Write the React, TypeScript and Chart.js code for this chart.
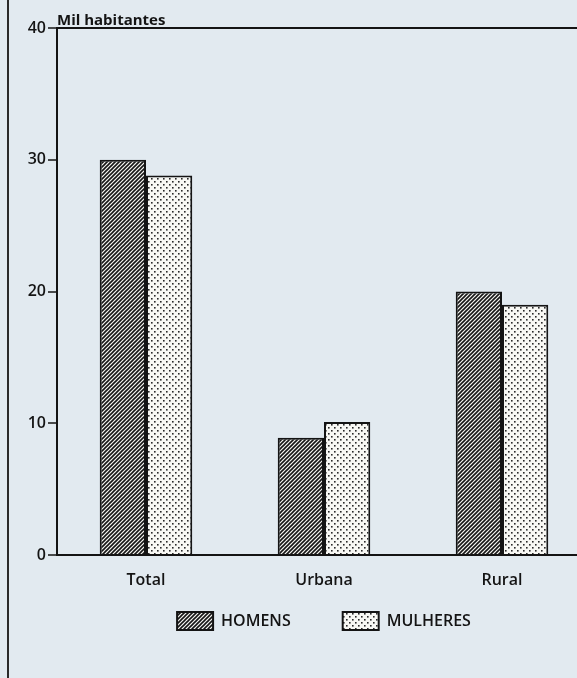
import { useEffect, useRef } from 'react';
import { Chart, registerables } from 'chart.js';

Chart.register(...registerables);

const categories = ['Total', 'Urbana', 'Rural'];
const homens = [30, 8.9, 20];
const mulheres = [28.8, 10.1, 19];
const yTitle = 'Mil habitantes';
const seriesNames = ['HOMENS', 'MULHERES'];
const yMin = 0;
const yMax = 40;
const yStep = 10;

const FONT = '"Open Sans", "DejaVu Sans", sans-serif';
const INK = '#141414';

function hatchPattern(ctx: CanvasRenderingContext2D) {
  const c = document.createElement('canvas');
  c.width = 4;
  c.height = 4;
  const g = c.getContext('2d')!;
  g.fillStyle = '#f5f5f1';
  g.fillRect(0, 0, 4, 4);
  g.strokeStyle = '#161616';
  g.lineWidth = 1.6;
  g.beginPath();
  g.moveTo(-1, 5); g.lineTo(5, -1);
  g.moveTo(-1, 1); g.lineTo(1, -1);
  g.moveTo(3, 5); g.lineTo(5, 3);
  g.stroke();
  return ctx.createPattern(c, 'repeat')!;
}

function dotPattern(ctx: CanvasRenderingContext2D) {
  const c = document.createElement('canvas');
  c.width = 6;
  c.height = 6;
  const g = c.getContext('2d')!;
  g.fillStyle = '#f8f8f4';
  g.fillRect(0, 0, 6, 6);
  g.fillStyle = '#2a2a2a';
  g.fillRect(1, 1, 1.6, 1.6);
  g.fillRect(4, 4, 1.6, 1.6);
  return ctx.createPattern(c, 'repeat')!;
}

export default function App() {
  const ref = useRef<HTMLCanvasElement>(null);
  useEffect(() => {
    const canvas = ref.current!;
    const ctx = canvas.getContext('2d')!;
    const defaultGen = (Chart as any).defaults.plugins.legend.labels.generateLabels;
    const chart = new Chart(ctx, {
      type: 'bar',
      data: {
        labels: categories,
        datasets: [
          {
            label: seriesNames[0],
            data: homens,
            backgroundColor: hatchPattern(ctx),
            borderColor: INK,
            borderWidth: 2,
            barPercentage: 1,
            categoryPercentage: 0.52,
          },
          {
            label: seriesNames[1],
            data: mulheres,
            backgroundColor: dotPattern(ctx),
            borderColor: INK,
            borderWidth: 2,
            barPercentage: 1,
            categoryPercentage: 0.52,
          },
        ],
      },
      options: {
        animation: false,
        responsive: false,
        maintainAspectRatio: false,
        layout: { padding: { top: 0, right: 0, bottom: 38, left: 0 } },
        plugins: {
          tooltip: { enabled: false },
          title: {
            display: true,
            text: yTitle,
            align: 'start',
            position: 'top',
            fullSize: false,
            color: INK,
            font: { family: FONT, size: 15, weight: 'bold', lineHeight: 1 },
            padding: { top: 13, bottom: 0 },
          },
          legend: {
            display: true,
            position: 'bottom',
            fullSize: false,
            labels: {
              color: INK,
              font: { family: FONT, size: 16, weight: '600' },
              boxWidth: 36,
              boxHeight: 18,
              padding: 20,
              generateLabels: (c: any) => {
                const items = defaultGen(c);
                if (items[0]) items[0].text = items[0].text + '\u2002\u2002\u2002\u2002';
                return items;
              },
            },
          },
        },
        scales: {
          x: {
            grid: { display: false },
            border: { display: true, color: INK, width: 2 },
            ticks: { color: INK, font: { family: FONT, size: 16, weight: '600' }, padding: 8 },
            afterFit: (scale: any) => { scale.height = 37; },
          },
          y: {
            min: yMin,
            max: yMax,
            ticks: { stepSize: yStep, color: INK, font: { family: FONT, size: 16, weight: '600' }, padding: 2 },
            grid: {
              drawOnChartArea: true,
              color: (c: any) => (c.tick && c.tick.value === yMax ? INK : 'rgba(0,0,0,0)'),
              lineWidth: 2,
              tickLength: 9,
              tickColor: INK,
              tickWidth: 1.5,
            },
            border: { display: true, color: INK, width: 2 },
            afterFit: (scale: any) => { scale.width = 48; },
          },
        },
      },
    });
    return () => chart.destroy();
  }, []);

  return (
    <div
      style={{
        position: 'fixed',
        left: 0,
        top: 0,
        width: 577,
        height: 678,
        overflow: 'hidden',
        background: '#e2eaf0',
      }}
    >
      <div
        style={{
          position: 'absolute',
          left: 7,
          top: 0,
          height: 678,
          width: 600,
          borderLeft: '2px solid #2a2a2a',
        }}
      >
        <canvas ref={ref} width={582} height={678} style={{ display: 'block', width: 582, height: 678 }} />
      </div>
    </div>
  );
}
